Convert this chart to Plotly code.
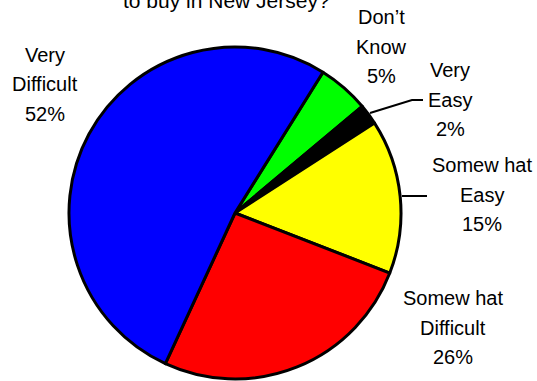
import plotly.graph_objects as go

# Survey responses, listed clockwise starting just right of 12 o'clock
labels = ["Don’t Know", "Very Easy", "Somew hat Easy", "Somew hat Difficult", "Very Difficult"]
label_lines = [["Don’t", "Know"], ["Very", "Easy"], ["Somew hat", "Easy"],
               ["Somew hat", "Difficult"], ["Very", "Difficult"]]
values = [5, 2, 15, 26, 52]
colors = ["#00FF00", "#000000", "#FFFF00", "#FF0000", "#0000FF"]

W, H = 537, 381
FONT = "Liberation Sans, Arial, sans-serif"

# label block centres (pixels) and line spacing
label_pos = [(381, 17), (450, 70), (482, 165), (453, 298), (45, 55)]
LINE_GAP = 29.5


def px(x):
    return x / W


def py(y):
    return 1 - y / H


fig = go.Figure(
    go.Pie(
        labels=labels,
        values=values,
        sort=False,
        direction="clockwise",
        rotation=32,
        marker=dict(colors=colors, line=dict(color="black", width=3)),
        textinfo="none",
        hoverinfo="label+percent",
        showlegend=False,
        domain=dict(x=[px(235 - 166), px(235 + 166)], y=[py(379), py(47)]),
    )
)

annotations = []
total = sum(values)
for lines, v, (cx, cy) in zip(label_lines, values, label_pos):
    texts = lines + [f"{round(100 * v / total)}%"]
    for i, t in enumerate(texts):
        annotations.append(dict(
            x=px(cx), y=py(cy + i * LINE_GAP), xref="paper", yref="paper",
            text=t, showarrow=False, xanchor="center", yanchor="middle",
            font=dict(family=FONT, size=20, color="black"),
        ))

# last line of the title, partly above the top edge
annotations.append(dict(
    x=px(226), y=py(0), xref="paper", yref="paper",
    text="to buy in New Jersey?", showarrow=False,
    xanchor="center", yanchor="middle",
    font=dict(family=FONT, size=21, color="black"),
))

# leader lines for the small labels
shapes = [
    dict(type="path", xref="paper", yref="paper",
         path=f"M {px(370)},{py(113)} L {px(412)},{py(100)} L {px(423)},{py(100)}",
         line=dict(color="black", width=2)),
    dict(type="line", xref="paper", yref="paper",
         x0=px(402), y0=py(196), x1=px(427), y1=py(196),
         line=dict(color="black", width=2)),
]

fig.update_layout(
    width=W, height=H,
    margin=dict(l=0, r=0, t=0, b=0),
    paper_bgcolor="white", plot_bgcolor="white",
    annotations=annotations,
    shapes=shapes,
)

fig.write_html("out.html")
